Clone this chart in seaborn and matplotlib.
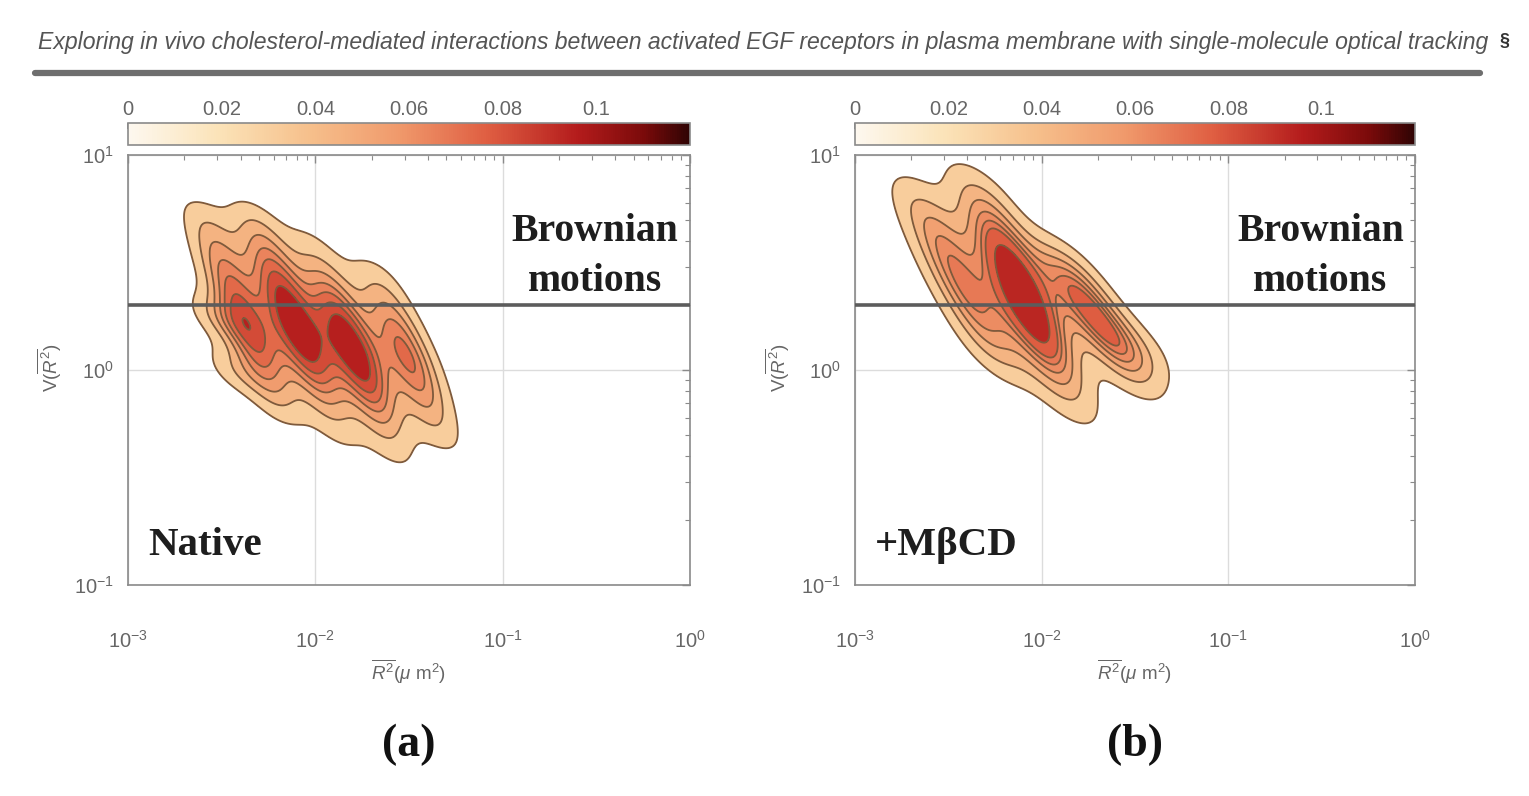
import numpy as np
import pandas as pd
import matplotlib
matplotlib.use("Agg")
import matplotlib.pyplot as plt
import seaborn as sns
from matplotlib.colors import LinearSegmentedColormap, Normalize
from matplotlib.cm import ScalarMappable
from matplotlib.lines import Line2D
from matplotlib.ticker import LogLocator, NullFormatter
from matplotlib import font_manager

# ---------------- data (log10 units) ----------------
# ridge points of the density lobes: log10(R^2 / um^2), log10(V), weight
native_log_r2 = [-2.594, -2.536, -2.477, -2.419, -2.360, -2.300, -2.243, -2.185,
                 -2.333, -2.275, -2.216, -2.158, -2.099, -2.041, -1.982, -1.924,
                 -2.034, -1.976, -1.917, -1.859, -1.800, -1.742, -1.683, -1.625,
                 -1.686, -1.627, -1.569, -1.510, -1.452, -1.393, -1.335,
                 -2.550, -2.450, -1.866, -1.567]
native_log_v = [0.72, 0.59, 0.46, 0.33, 0.20, 0.07, -0.06, -0.19,
                0.72, 0.59, 0.46, 0.33, 0.20, 0.07, -0.06, -0.19,
                0.62, 0.49, 0.36, 0.23, 0.10, -0.03, -0.16, -0.29,
                0.46, 0.33, 0.20, 0.07, -0.06, -0.19, -0.32,
                0.25, 0.00, -0.32, -0.42]
native_w = [0.30, 0.45, 0.60, 0.72, 0.80, 0.68, 0.48, 0.28,
            0.30, 0.50, 0.70, 0.88, 1.00, 0.85, 0.60, 0.35,
            0.18, 0.35, 0.60, 0.85, 1.00, 0.85, 0.60, 0.35,
            0.25, 0.42, 0.60, 0.70, 0.60, 0.42, 0.25,
            0.35, 0.35, 0.20, 0.18]

mbcd_log_r2 = [-2.650, -2.577, -2.504, -2.432, -2.359, -2.286, -2.219,
               -2.350, -2.286, -2.223, -2.159, -2.095, -2.032, -1.968, -1.904, -1.840,
               -1.900, -1.805, -1.710, -1.615, -1.520, -1.470]
mbcd_log_v = [0.80, 0.67, 0.54, 0.41, 0.28, 0.15, 0.03,
              0.86, 0.73, 0.60, 0.47, 0.34, 0.21, 0.08, -0.05, -0.18,
              0.50, 0.37, 0.24, 0.11, -0.02, 0.10]
mbcd_w = [0.30, 0.45, 0.55, 0.60, 0.55, 0.42, 0.25,
          0.30, 0.50, 0.70, 0.90, 1.00, 0.90, 0.65, 0.40, 0.22,
          0.45, 0.65, 0.70, 0.55, 0.35, 0.30]

cbar_ticks = [0, 0.02, 0.04, 0.06, 0.08, 0.1]
cbar_labels = ["0", "0.02", "0.04", "0.06", "0.08", "0.1"]
cbar_max = 0.12
brownian_v = 2.0
x_ticks = [1e-3, 1e-2, 1e-1, 1e0]
y_ticks = [1e-1, 1e0, 1e1]
panel_names = ["Native", "+MβCD"]
panel_letters = ["(a)", "(b)"]
header = ("Exploring in vivo cholesterol-mediated interactions between activated "
          "EGF receptors in plasma membrane with single-molecule optical tracking")

# ---------------- style ----------------
sns.set_theme(style="white")
plt.rcParams['font.family'] = ['Liberation Sans', 'DejaVu Sans']
plt.rcParams['mathtext.fontset'] = 'custom'
plt.rcParams['mathtext.rm'] = 'Liberation Sans'
plt.rcParams['mathtext.it'] = 'Liberation Sans:italic'

names = {f.name for f in font_manager.fontManager.ttflist}
serif = 'Liberation Serif' if 'Liberation Serif' in names else 'DejaVu Serif'

gray_txt = '#666666'
main_cmap = LinearSegmentedColormap.from_list(
    "orrd_dark",
    [(0.00, '#fdf8ef'), (0.16, '#fbe3b8'), (0.32, '#f6c08c'), (0.48, '#f09a6c'),
     (0.64, '#df5e42'), (0.80, '#b41c1c'), (0.92, '#7a0a0a'), (1.00, '#300404')])
fill_cmap = LinearSegmentedColormap.from_list(
    "fill", main_cmap(np.linspace(0.20, 0.86, 256)))

W, H = 1529, 796
fig = plt.figure(figsize=(W / 100, H / 100), dpi=100)
fig.patch.set_facecolor('white')

ax_top, ax_bot = 155, 585
boxes = [(128, 690), (855, 1415)]
datasets = [pd.DataFrame({"r2": 10.0 ** np.array(native_log_r2),
                          "v": 10.0 ** np.array(native_log_v), "w": native_w}),
            pd.DataFrame({"r2": 10.0 ** np.array(mbcd_log_r2),
                          "v": 10.0 ** np.array(mbcd_log_v), "w": mbcd_w})]
bws = [0.34, 0.46]

for i, ((l, r), df) in enumerate(zip(boxes, datasets)):
    ax = fig.add_axes([l / W, 1 - ax_bot / H, (r - l) / W, (ax_bot - ax_top) / H])
    kde_kw = dict(data=df, x="r2", y="v", weights="w", ax=ax, levels=8, thresh=0.08,
                  bw_method=bws[i], gridsize=300, cut=4, log_scale=True)
    sns.kdeplot(fill=True, cmap=fill_cmap, **kde_kw)
    sns.kdeplot(fill=False, colors='#7e5a3c', linewidths=1.3, **kde_kw)

    ax.set_xscale('log')
    ax.set_yscale('log')
    ax.set_xlim(1e-3, 1)
    ax.set_ylim(1e-1, 1e1)
    ax.set_xticks(x_ticks)
    ax.set_yticks(y_ticks)
    ax.xaxis.set_minor_locator(LogLocator(base=10, subs=np.arange(2, 10), numticks=20))
    ax.yaxis.set_minor_locator(LogLocator(base=10, subs=np.arange(2, 10), numticks=20))
    ax.xaxis.set_minor_formatter(NullFormatter())
    ax.yaxis.set_minor_formatter(NullFormatter())
    ax.set_axisbelow(True)
    ax.grid(True, which='major', color='#dcdcdc', lw=1.0)
    ax.tick_params(which='both', direction='in', top=True, right=True,
                   color='#8a8a8a', labelcolor=gray_txt, labelsize=14.5)
    ax.tick_params(which='major', length=6, width=1)
    ax.tick_params(which='minor', length=3.5, width=0.8)
    ax.tick_params(axis='x', which='major', pad=32)
    ax.tick_params(axis='y', which='major', pad=10)
    for s in ax.spines.values():
        s.set_color('#8a8a8a')
        s.set_linewidth(1.2)
        s.set_visible(True)

    ax.axhline(brownian_v, color='#5c5c5c', lw=2.6, zorder=5)

    ax.set_xlabel(r"$\overline{R^2}$($\mu$ m$^2$)", color=gray_txt, fontsize=13.5)
    ax.xaxis.set_label_coords(0.5, -0.202)
    ax.xaxis.label.set_va('center')
    ax.set_ylabel(r"V($\overline{R^2}$)", color=gray_txt, fontsize=13.5)
    ax.yaxis.set_label_coords(-0.139, 0.505)
    ax.yaxis.label.set_va('center')

    ax.text(0.831, 0.822, "Brownian", transform=ax.transAxes, ha='center', va='center',
            family=serif, fontweight='bold', fontsize=28.5, color='#1e1e1e', zorder=6)
    ax.text(0.831, 0.706, "motions", transform=ax.transAxes, ha='center', va='center',
            family=serif, fontweight='bold', fontsize=28.5, color='#1e1e1e', zorder=6)
    ax.text(0.036, 0.093, panel_names[i], transform=ax.transAxes, ha='left', va='center',
            family=serif, fontweight='bold', fontsize=29.5, color='#1e1e1e', zorder=6)

    # colorbar on top
    cax = fig.add_axes([l / W, 1 - 145 / H, (r - l) / W, 22 / H])
    sm = ScalarMappable(norm=Normalize(0, cbar_max), cmap=main_cmap)
    cb = fig.colorbar(sm, cax=cax, orientation='horizontal', ticks=cbar_ticks)
    cb.ax.xaxis.set_ticks_position('top')
    cb.ax.set_xticklabels(cbar_labels)
    cb.ax.tick_params(direction='in', length=4, color='#777777', labelcolor=gray_txt,
                      labelsize=14.5, pad=3)
    cb.outline.set_edgecolor('#8a8a8a')
    cb.outline.set_linewidth(1.2)

    fig.text(((l + r) / 2) / W, 1 - 745 / H, panel_letters[i], ha='center', va='center',
             family=serif, fontweight='bold', fontsize=33, color='#111111')

# header
t = fig.text(38 / W, 1 - 42 / H, header, ha='left', va='center', style='italic',
             color='#555555', fontsize=15)
fig.canvas.draw()
wpx = t.get_window_extent().width
t.set_fontsize(15 * 1455 / wpx)
fig.text(1500 / W, 1 - 42 / H, "§", ha='left', va='center', fontweight='bold',
         color='#333333', fontsize=13)
fig.add_artist(Line2D([35 / W, 1480 / W], [1 - 73 / H, 1 - 73 / H], lw=4.5,
                      color='#6e6e6e', transform=fig.transFigure))

fig.savefig("out.png", dpi=100)
